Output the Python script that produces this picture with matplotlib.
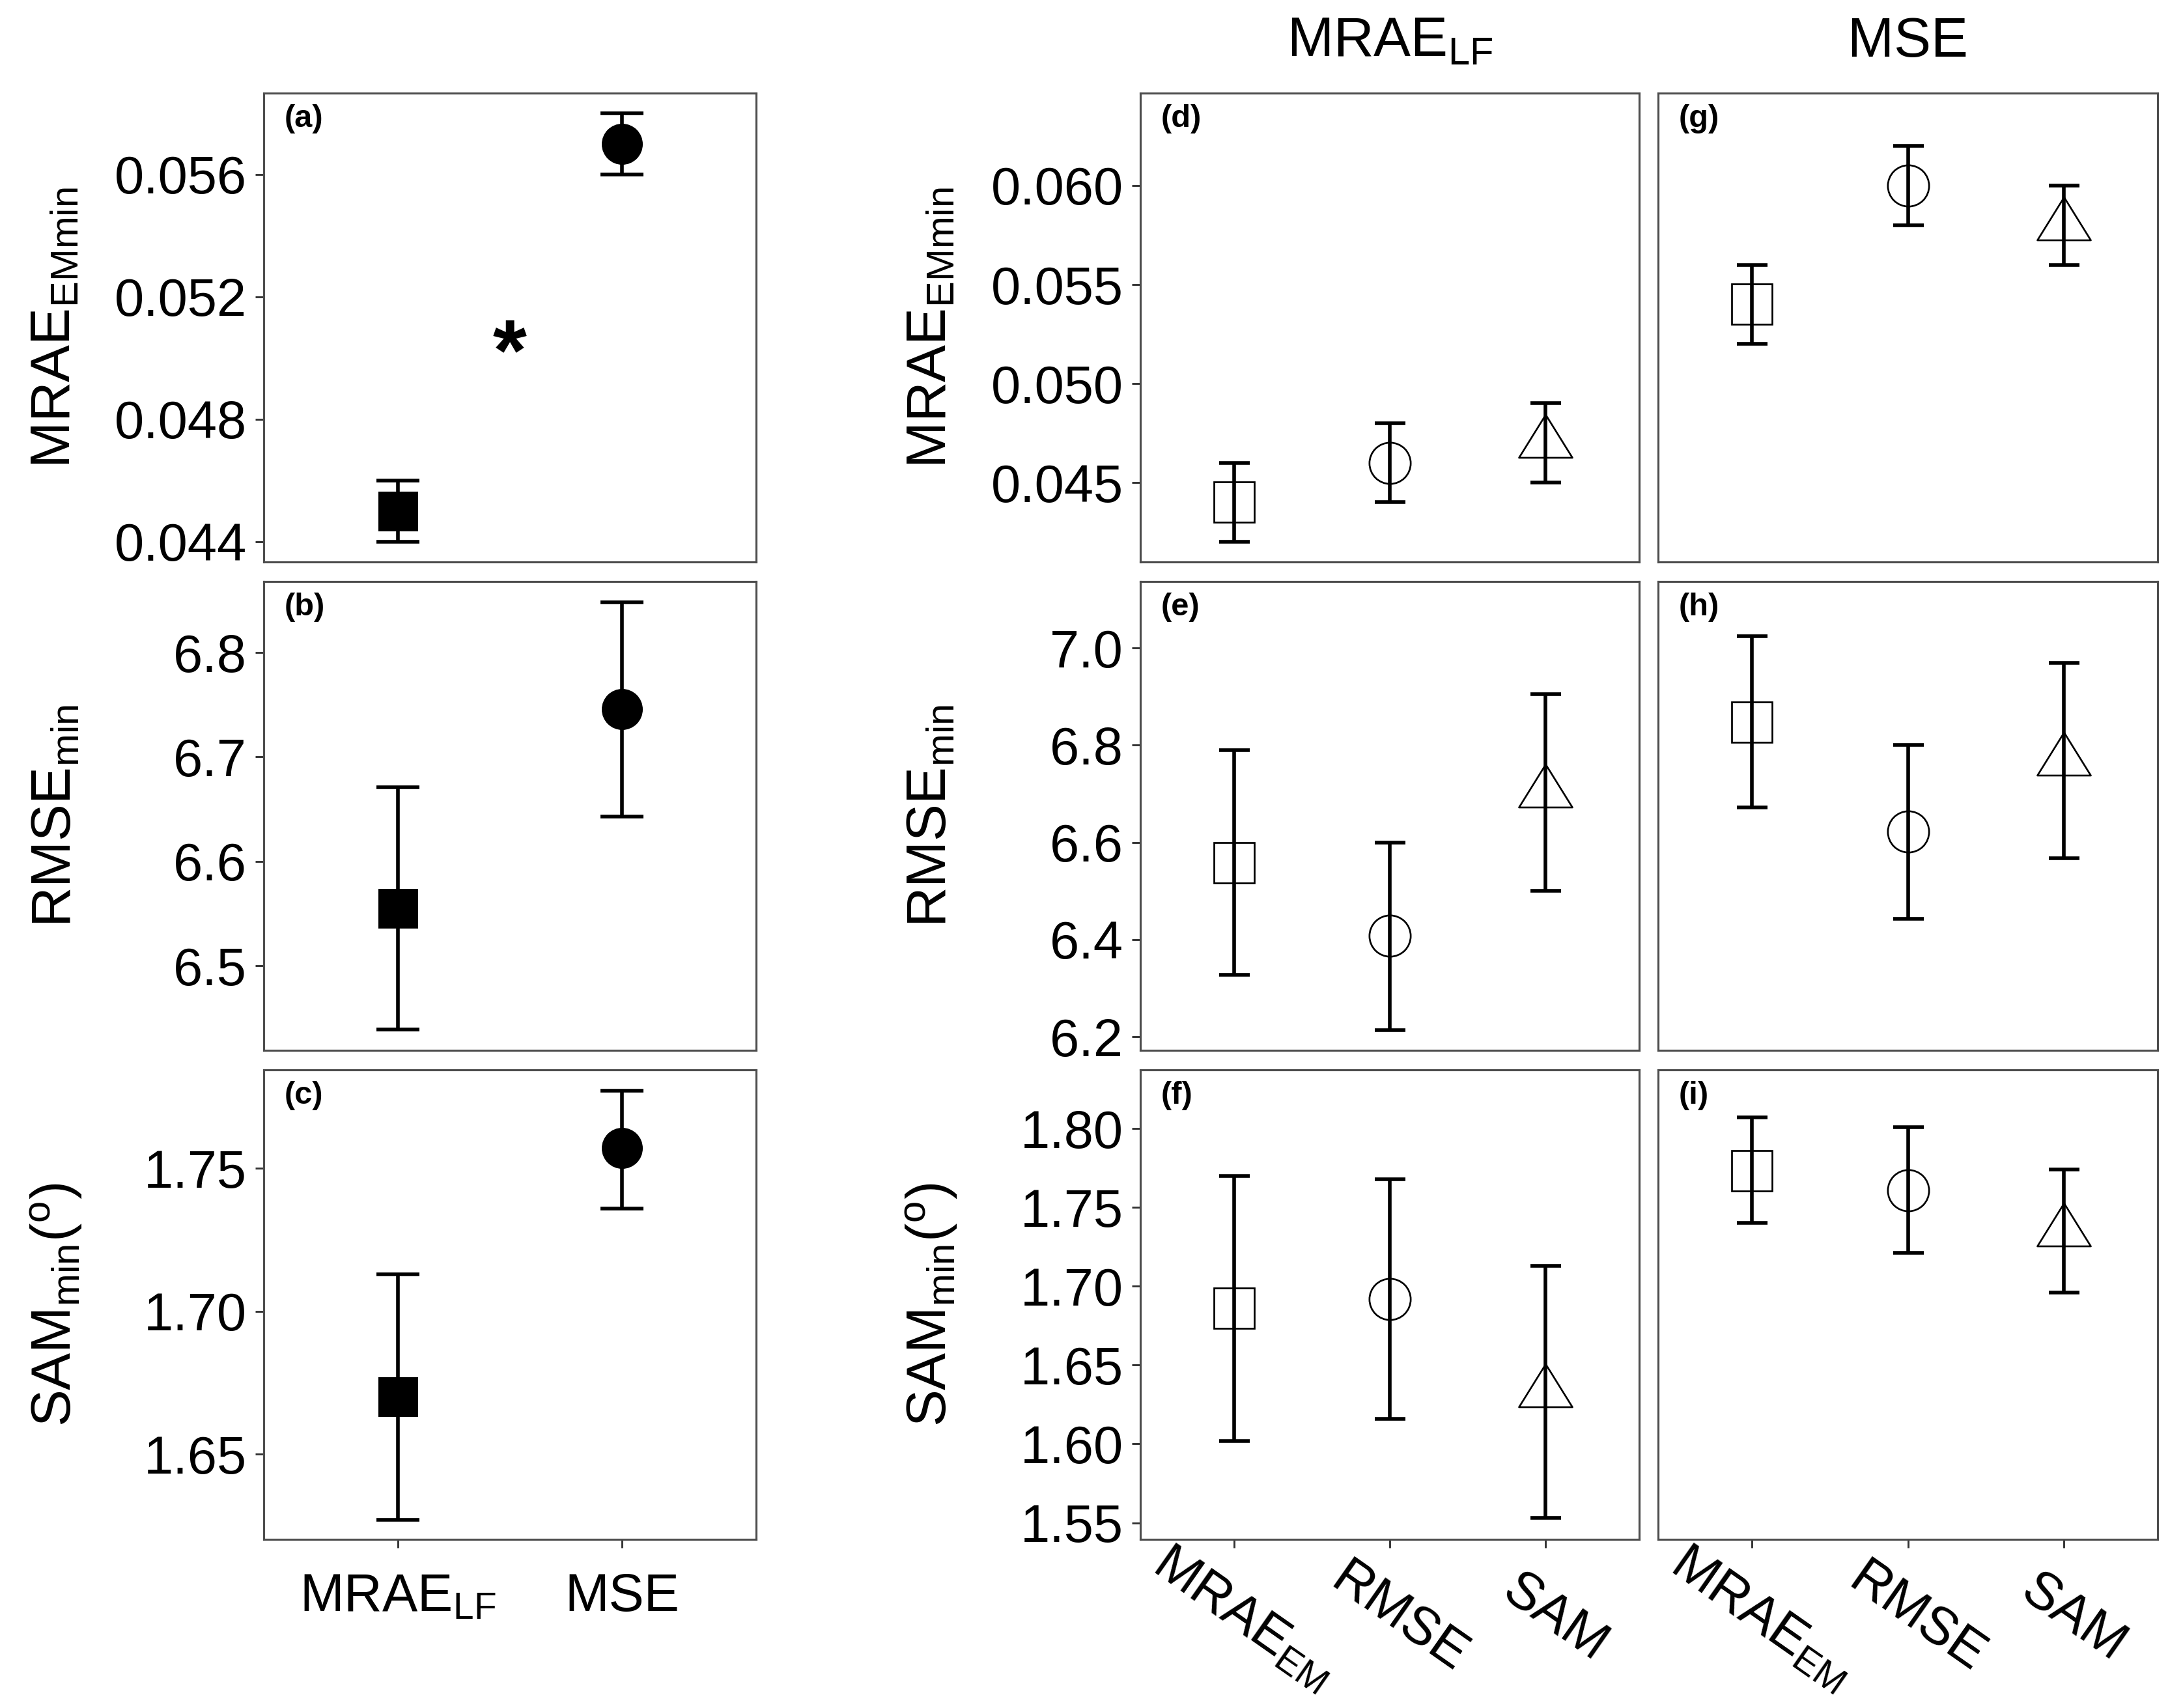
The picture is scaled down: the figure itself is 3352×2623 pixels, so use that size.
import matplotlib
matplotlib.use('Agg')
import matplotlib.pyplot as plt
import matplotlib.transforms as mtransforms
from matplotlib.ticker import FixedLocator, FixedFormatter

plt.rcParams['font.family'] = ['Liberation Sans', 'DejaVu Sans']
plt.rcParams['mathtext.fontset'] = 'custom'
plt.rcParams['mathtext.rm'] = 'Liberation Sans'
plt.rcParams['mathtext.it'] = 'Liberation Sans:italic'
plt.rcParams['mathtext.bf'] = 'Liberation Sans:bold'

# ---------------- data ----------------
loss_functions = [r'MRAE$_{\mathrm{LF}}$', 'MSE']
metrics = [r'MRAE$_{\mathrm{EM}}$', 'RMSE', 'SAM']

# left column (a, b, c): loss function comparison (mean, lower, upper)
a_mean = [0.045, 0.057]
a_lo = [0.044, 0.056]
a_hi = [0.046, 0.058]
b_mean = [6.555, 6.746]
b_lo = [6.439, 6.643]
b_hi = [6.671, 6.848]
c_mean = [1.670, 1.757]
c_lo = [1.627, 1.736]
c_hi = [1.713, 1.777]

# middle column (d, e, f): MRAE_LF loss, by selection metric
d_mean = [0.044, 0.046, 0.047]
d_lo = [0.042, 0.044, 0.045]
d_hi = [0.046, 0.048, 0.049]
e_mean = [6.558, 6.408, 6.703]
e_lo = [6.327, 6.214, 6.500]
e_hi = [6.790, 6.599, 6.905]
f_mean = [1.686, 1.692, 1.633]
f_lo = [1.602, 1.616, 1.553]
f_hi = [1.770, 1.768, 1.713]

# right column (g, h, i): MSE loss, by selection metric
g_mean = [0.054, 0.060, 0.058]
g_lo = [0.052, 0.058, 0.056]
g_hi = [0.056, 0.062, 0.060]
h_mean = [6.848, 6.622, 6.768]
h_lo = [6.672, 6.443, 6.567]
h_hi = [7.024, 6.800, 6.970]
i_mean = [1.773, 1.761, 1.735]
i_lo = [1.740, 1.721, 1.696]
i_hi = [1.807, 1.801, 1.774]

# axis ticks / labels
yticks_a = [0.044, 0.048, 0.052, 0.056]
ylabels_a = ['0.044', '0.048', '0.052', '0.056']
yticks_b = [6.5, 6.6, 6.7, 6.8]
ylabels_b = ['6.5', '6.6', '6.7', '6.8']
yticks_c = [1.65, 1.70, 1.75]
ylabels_c = ['1.65', '1.70', '1.75']
yticks_d = [0.045, 0.050, 0.055, 0.060]
ylabels_d = ['0.045', '0.050', '0.055', '0.060']
yticks_e = [6.2, 6.4, 6.6, 6.8, 7.0]
ylabels_e = ['6.2', '6.4', '6.6', '6.8', '7.0']
yticks_f = [1.55, 1.60, 1.65, 1.70, 1.75, 1.80]
ylabels_f = ['1.55', '1.60', '1.65', '1.70', '1.75', '1.80']

ylim_a = (0.04333, 0.05865)
ylim_b = (6.419, 6.868)
ylim_c = (1.6202, 1.7844)
ylim_d = (0.04099, 0.06467)
ylim_e = (6.172, 7.137)
ylim_f = (1.5395, 1.8372)

ytitle_1 = r'MRAE$_{\mathrm{EMmin}}$'
ytitle_2 = r'RMSE$_{\mathrm{min}}$'
ytitle_3 = r'SAM$_{\mathrm{min}}$($^{\mathrm{o}}$)'
col_titles = [r'MRAE$_{\mathrm{LF}}$', 'MSE']
panel_tags = ['(a)', '(b)', '(c)', '(d)', '(e)', '(f)', '(g)', '(h)', '(i)']
signif_mark = '*'
signif_y = 0.0507

# ---------------- layout ----------------
W, H = 3352, 2623
DPI = 300
fig = plt.figure(figsize=(W / DPI, H / DPI), dpi=DPI)
fig.patch.set_facecolor('white')

cols = [(405, 1161), (1751, 2517), (2546, 3313)]
rows = [(143, 863), (893, 1613), (1643, 2364)]


def px2pt(p):
    return p * 72.0 / DPI


def add_ax(c, r):
    x0, x1 = cols[c]
    y0, y1 = rows[r]
    return fig.add_axes([x0 / W, 1 - y1 / H, (x1 - x0) / W, (y1 - y0) / H])


TICK_FS = 19.5
TITLE_FS = 20.5
LW_ERR = px2pt(5.6)
SPINE_C = '#4d4d4d'

# triangle marker (equilateral-ish, centered near centroid)
tri_marker = [(0.0, 43.5), (-41.0, -22.5), (41.0, -22.5), (0.0, 43.5)]


def style_axes(ax, xlim):
    ax.set_xlim(*xlim)
    for s in ax.spines.values():
        s.set_color(SPINE_C)
        s.set_linewidth(0.75)
    ax.tick_params(axis='both', direction='out', length=px2pt(13), width=0.7,
                   color='#333333', labelsize=TICK_FS, labelcolor='black',
                   pad=px2pt(13))
    ax.set_facecolor('white')


axes = {}
# left column
left_data = [(a_mean, a_lo, a_hi, ylim_a, yticks_a, ylabels_a),
             (b_mean, b_lo, b_hi, ylim_b, yticks_b, ylabels_b),
             (c_mean, c_lo, c_hi, ylim_c, yticks_c, ylabels_c)]
xs_left = list(range(1, len(loss_functions) + 1))
left_markers = ['s', 'o']
left_msize = [px2pt(61), px2pt(63)]
for r, (mean, lo, hi, ylim, yt, yl) in enumerate(left_data):
    ax = add_ax(0, r)
    style_axes(ax, (0.4, 2.6))
    ax.errorbar(xs_left, mean,
                yerr=[[m - l for m, l in zip(mean, lo)], [h - m for m, h in zip(mean, hi)]],
                fmt='none', ecolor='black', elinewidth=LW_ERR, capthick=LW_ERR,
                capsize=px2pt(33.5), zorder=2)
    for x, m, mk, ms in zip(xs_left, mean, left_markers, left_msize):
        ax.plot([x], [m], marker=mk, markersize=ms, color='black',
                markeredgewidth=0, linestyle='none', zorder=3)
    ax.set_ylim(*ylim)
    ax.yaxis.set_major_locator(FixedLocator(yt))
    ax.yaxis.set_major_formatter(FixedFormatter(yl))
    ax.set_xticks(xs_left)
    if r < 2:
        ax.tick_params(axis='x', length=0, labelbottom=False)
    else:
        ax.set_xticklabels(loss_functions, va='baseline')
        ax.tick_params(axis='x', pad=px2pt(97))
    axes[(0, r)] = ax

# middle and right columns
mid_data = [(d_mean, d_lo, d_hi), (e_mean, e_lo, e_hi), (f_mean, f_lo, f_hi)]
right_data = [(g_mean, g_lo, g_hi), (h_mean, h_lo, h_hi), (i_mean, i_lo, i_hi)]
row_ylims = [ylim_d, ylim_e, ylim_f]
row_yticks = [(yticks_d, ylabels_d), (yticks_e, ylabels_e), (yticks_f, ylabels_f)]
xs_right = list(range(1, len(metrics) + 1))
right_markers = ['s', 'o', tri_marker]
right_msize = [px2pt(61.3), px2pt(63.3), px2pt(87)]

for c, data in ((1, mid_data), (2, right_data)):
    for r, (mean, lo, hi) in enumerate(data):
        ax = add_ax(c, r)
        style_axes(ax, (0.4, 3.6))
        ax.errorbar(xs_right, mean,
                    yerr=[[m - l for m, l in zip(mean, lo)], [h - m for m, h in zip(mean, hi)]],
                    fmt='none', ecolor='black', elinewidth=LW_ERR, capthick=LW_ERR,
                    capsize=px2pt(23.5), zorder=2)
        for x, m, mk, ms in zip(xs_right, mean, right_markers, right_msize):
            ax.plot([x], [m], marker=mk, markersize=ms, markerfacecolor='none',
                    markeredgecolor='black', markeredgewidth=px2pt(2.7),
                    linestyle='none', zorder=3)
        ax.set_ylim(*row_ylims[r])
        yt, yl = row_yticks[r]
        ax.yaxis.set_major_locator(FixedLocator(yt))
        ax.yaxis.set_major_formatter(FixedFormatter(yl))
        if c == 2:
            ax.tick_params(axis='y', length=0, labelleft=False)
        ax.set_xticks(xs_right)
        if r < 2:
            ax.tick_params(axis='x', length=0, labelbottom=False)
        else:
            ax.set_xticklabels(metrics, rotation=-35, ha='center', va='center',
                               rotation_mode='anchor')
            ax.tick_params(axis='x', pad=px2pt(108))
            off = mtransforms.ScaledTranslation(14 / DPI, 0, fig.dpi_scale_trans)
            for lab in ax.get_xticklabels():
                lab.set_transform(lab.get_transform() + off)
        axes[(c, r)] = ax

# panel tags
k = 0
for c in range(3):
    for r in range(3):
        ax = axes[(c, r)]
        x0, x1 = cols[c]
        y0, y1 = rows[r]
        ax.text(32 / (x1 - x0), 1 - 17 / (y1 - y0), panel_tags[k],
                transform=ax.transAxes, ha='left', va='top',
                fontsize=11.7, fontweight='bold')
        k += 1

# significance marker in (a)
axes[(0, 0)].annotate(signif_mark, xy=(1.5, signif_y), xytext=(0, -0.58 * 32 + 2.6),
                      textcoords='offset points', ha='center', va='baseline',
                      fontsize=32, fontweight='bold')

# y-axis titles
ytitles = [ytitle_1, ytitle_2, ytitle_3]
for r, t in enumerate(ytitles):
    yc = (rows[r][0] + rows[r][1]) / 2
    fig.text(86 / W, 1 - yc / H, t, rotation=90, ha='center', va='center',
             fontsize=TITLE_FS)
    fig.text(1430 / W, 1 - yc / H, t, rotation=90, ha='center', va='center',
             fontsize=TITLE_FS)

# column titles
for c, t in zip((1, 2), col_titles):
    xc = (cols[c][0] + cols[c][1]) / 2
    fig.text(xc / W, 1 - 87 / H, t, ha='center', va='baseline', fontsize=TITLE_FS)

fig.savefig('out.png', dpi=DPI, facecolor='white')
